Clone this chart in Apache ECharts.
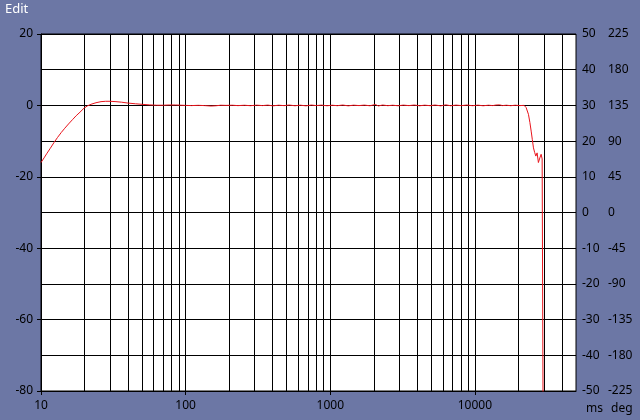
<!DOCTYPE html>
<html>
<head>
<meta charset="utf-8">
<script src="https://cdn.jsdelivr.net/npm/echarts@6/dist/echarts.min.js"></script>
<style>
html,body{margin:0;padding:0;background:#6c77a5;}
#chart{width:640px;height:420px;}
</style>
</head>
<body>
<div id="chart"></div>
<script>
// Frequencies (Hz) and magnitude (dB)
const freqs = [10,10.5,11,11.6,12.3,13,13.8,14.6,15.5,16.5,17.5,18.6,19.8,21,22.5,24,26,28,30,33,36,40,45,50,56,63,70,77,85,93,
  100,110,122,135,150,162,175,190,210,230,255,280,310,340,370,400,440,480,520,570,620,680,740,800,870,950,
  1030,1120,1220,1330,1450,1580,1720,1880,2050,2150,2300,2500,2700,2950,3200,3500,3800,4150,4500,4900,5300,5800,6300,6800,7400,8100,8800,9600,
  10500,11400,12400,13300,14000,14400,14800,15500,16500,17700,19000,20400,21900,22600,23450,24000,24490,24950,25410,25900,26380,26920,27480,28120,28700,29170,29790,30000];
const magDb = [-16.0,-14.7,-13.4,-12.0,-10.4,-9.0,-7.6,-6.4,-5.2,-4.0,-2.9,-1.9,-0.8,-0.1,0.4,0.75,1.05,1.15,1.15,1.05,0.9,0.65,0.45,0.3,0.15,0.05,0.05,0.12,0.12,0.05,
  0.0,-0.05,0.02,-0.05,-0.18,-0.1,0.05,0.0,0.05,-0.06,0.04,-0.08,0.06,-0.05,0.08,-0.12,0.05,-0.06,0.1,-0.1,0.06,-0.12,0.1,-0.05,0.08,-0.1,
  0.05,-0.08,0.1,-0.12,0.06,-0.05,0.08,-0.1,0.25,-0.15,0.1,-0.08,0.05,-0.1,0.08,-0.06,0.1,-0.1,0.06,-0.08,0.1,-0.12,0.15,-0.1,0.08,-0.06,0.1,-0.08,
  0.06,-0.1,0.05,-0.05,0.1,0.6,0.15,-0.05,0.05,-0.08,0.05,-0.05,0.0,-0.6,-2.5,-4.8,-7.2,-9.6,-11.9,-13.2,-14.2,-13.3,-16.0,-14.7,-13.7,-15.0,-15.5,-150];

// Tick / grid values
const xLabelTicks = [10,100,1000,10000];
const xMinorGrid = [20,30,40,50,60,70,80,90,200,300,400,500,600,700,800,900,2000,3000,4000,5000,6000,7000,8000,9000,20000,30000,40000];

const seriesData = freqs.map((f,i)=>[f, magDb[i]]);
const font = 'Noto Sans';

const chart = echarts.init(document.getElementById('chart'), null, {renderer:'canvas'});
chart.setOption({
  animation:false,
  backgroundColor:'#6c77a5',
  grid:{left:41,right:64,top:34,bottom:29,show:true,backgroundColor:'#ffffff',borderColor:'#000',borderWidth:1},
  xAxis:{
    type:'log', logBase:10, min:10, max:50000,
    axisLine:{show:true,onZero:false,lineStyle:{color:'#000',width:1}},
    axisTick:{show:true,length:4,lineStyle:{color:'#000'},customValues:xLabelTicks},
    axisLabel:{color:'#000',fontFamily:font,fontSize:12,margin:9,customValues:xLabelTicks,
      showMinLabel:true,showMaxLabel:true,hideOverlap:false,formatter:v=>String(Math.round(v))},
    splitLine:{show:true,lineStyle:{color:'#000',width:1}}
  },
  yAxis:[
    {type:'value',min:-80,max:20,interval:20,position:'left',
     axisLine:{show:true,onZero:false,lineStyle:{color:'#000'}},
     axisTick:{show:true,length:4,lineStyle:{color:'#000'}},
     axisLabel:{color:'#000',fontFamily:font,fontSize:12,margin:8},
     splitLine:{show:true,lineStyle:{color:'#000',width:1}},
     minorTick:{show:false,splitNumber:2},
     minorSplitLine:{show:true,lineStyle:{color:'#000',width:1}}},
    {type:'value',min:-50,max:50,interval:10,position:'right',
     axisLine:{show:false},axisTick:{show:false},splitLine:{show:false},
     axisLabel:{color:'#000',fontFamily:font,fontSize:12,margin:6}},
    {type:'value',min:-225,max:225,interval:45,position:'right',offset:27,
     axisLine:{show:false},axisTick:{show:false},splitLine:{show:false},
     axisLabel:{color:'#000',fontFamily:font,fontSize:12,margin:5}}
  ],
  series:[{
    type:'line', data:seriesData, showSymbol:false, symbol:'none',
    lineStyle:{color:'#e8141c',width:1}, z:3, clip:true,
    markLine:{silent:true,z:1,symbol:['none','none'],label:{show:false},
      lineStyle:{color:'#000',width:1,type:'solid'},
      emphasis:{disabled:true},
      data:xMinorGrid.map(v=>({xAxis:v}))}
  }],
  graphic:[
    {type:'text',left:5,top:3,style:{text:'Edit',fill:'#fff',font:'13px "Noto Sans"'}},
    {type:'text',left:586,top:403,style:{text:'ms',fill:'#000',font:'12px "Noto Sans"'}},
    {type:'text',left:611,top:403,style:{text:'deg',fill:'#000',font:'12px "Noto Sans"'}}
  ]
});
</script>
</body>
</html>
